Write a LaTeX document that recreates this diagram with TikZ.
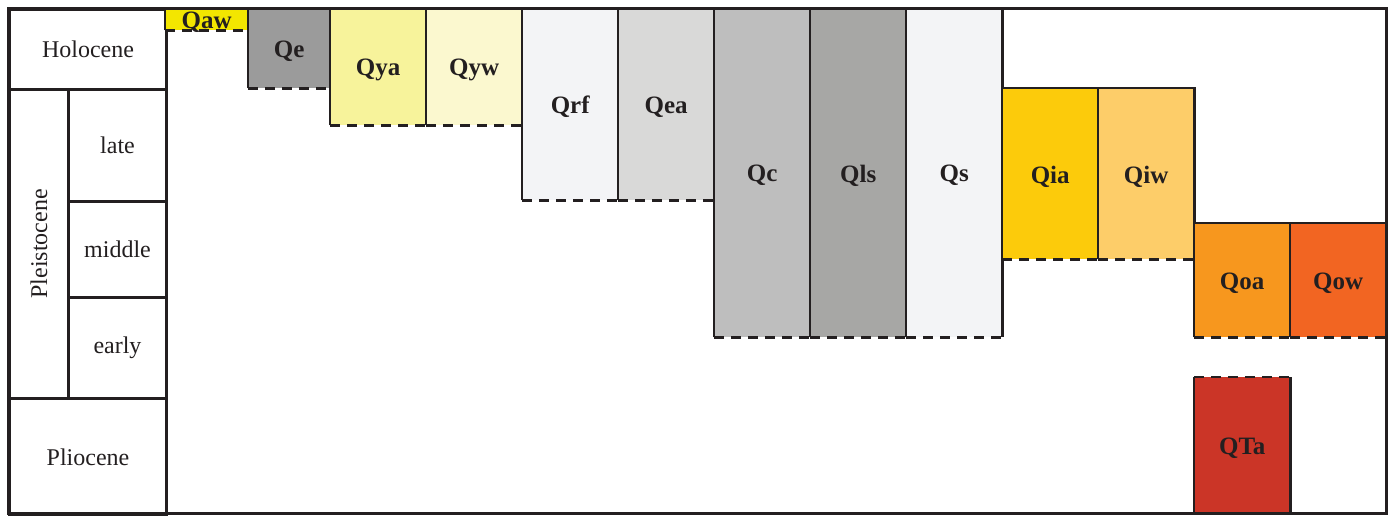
\documentclass[tikz,border=0pt]{standalone}
\usepackage{fontspec}
\setmainfont{Liberation Serif}
\usepackage{tikz}
\definecolor{ink}{HTML}{231F20}
\definecolor{cQaw}{HTML}{F3E600}
\definecolor{cQe}{HTML}{9B9B9B}
\definecolor{cQya}{HTML}{F7F39B}
\definecolor{cQyw}{HTML}{FBF8CF}
\definecolor{cQrf}{HTML}{F3F4F6}
\definecolor{cQea}{HTML}{D9D9D8}
\definecolor{cQc}{HTML}{BEBEBE}
\definecolor{cQls}{HTML}{A7A7A5}
\definecolor{cQs}{HTML}{F3F4F6}
\definecolor{cQia}{HTML}{FCCB0B}
\definecolor{cQiw}{HTML}{FDCD69}
\definecolor{cQoa}{HTML}{F7971E}
\definecolor{cQow}{HTML}{F26522}
\definecolor{cQTa}{HTML}{CB3527}
\tikzset{
  agecell/.style={rectangle, draw=ink, line width=3pt, inner sep=0pt, anchor=north west, text=ink, font=\fontsize{24}{26}\selectfont},
  unitcell/.style={rectangle, inner sep=0pt, anchor=north west, text=ink, font=\bfseries\fontsize{25}{27}\selectfont},
  solidedge/.style={draw=ink, line width=2.5pt},
  dashedge/.style={draw=ink, line width=2.5pt, dash pattern=on 10pt off 7pt}
}
% name, top-left corner, width, height, fill, label
\newcommand{\unitbox}[6]{\node[unitcell, fill=#5, minimum width=#3pt, minimum height=#4pt] (#1) at (#2) {};
\node[text=ink, font=\bfseries\fontsize{25}{27}\selectfont, yshift=-3pt] (#1lab) at (#1.center) {#6};
\draw[solidedge] (#1.south west) -- (#1.north west) -- (#1.north east) -- (#1.south east);
\draw[dashedge] (#1.south west) -- (#1.south east);}

\begin{document}
\begin{tikzpicture}[x=1pt, y=-1pt]
\useasboundingbox (0,0) rectangle (1391,515);
% age column
\node[agecell, minimum width=157pt, minimum height=80pt] (holo) at (8,8) {Holocene};
\node[agecell, minimum width=59pt, minimum height=309pt] (pleist) at (8,88) {};
\node[rotate=90, text=ink, font=\fontsize{24}{26}\selectfont] (pleistlab) at (pleist.center) {Pleistocene};
\node[agecell, minimum width=98pt, minimum height=112pt] (late) at (67,88) {late};
\node[agecell, minimum width=98pt, minimum height=96pt] (middle) at (67,200) {middle};
\node[agecell, minimum width=98pt, minimum height=101pt] (early) at (67,296) {early};
\node[agecell, minimum width=157pt, minimum height=117pt] (plio) at (8,397) {Pliocene};
% map units
\unitbox{Qaw}{165,8}{83}{22}{cQaw}{Qaw}
\unitbox{Qe}{248,8}{82}{80}{cQe}{Qe}
\unitbox{Qya}{330,8}{96}{117}{cQya}{Qya}
\unitbox{Qyw}{426,8}{96}{117}{cQyw}{Qyw}
\unitbox{Qrf}{522,8}{96}{192}{cQrf}{Qrf}
\unitbox{Qea}{618,8}{96}{192}{cQea}{Qea}
\unitbox{Qc}{714,8}{96}{329}{cQc}{Qc}
\unitbox{Qls}{810,8}{96}{329}{cQls}{Qls}
\unitbox{Qs}{906,8}{96}{329}{cQs}{Qs}
\unitbox{Qia}{1002,88}{96}{171}{cQia}{Qia}
\unitbox{Qiw}{1098,88}{96}{171}{cQiw}{Qiw}
\unitbox{Qoa}{1194,223}{96}{114}{cQoa}{Qoa}
\unitbox{Qow}{1290,223}{96}{114}{cQow}{Qow}
\node[unitcell, fill=cQTa, minimum width=96pt, minimum height=137pt] (QTa) at (1194,377) {};
\node[text=ink, font=\bfseries\fontsize{25}{27}\selectfont, yshift=-3pt] (QTalab) at (QTa.center) {QTa};
\draw[solidedge] (QTa.north west) -- (QTa.south west) (QTa.north east) -- (QTa.south east);
\draw[dashedge] (QTa.north west) -- (QTa.north east);
% outer frame
\draw[draw=ink, line width=3pt] (8,8) rectangle (1386,513);
\end{tikzpicture}
\end{document}
